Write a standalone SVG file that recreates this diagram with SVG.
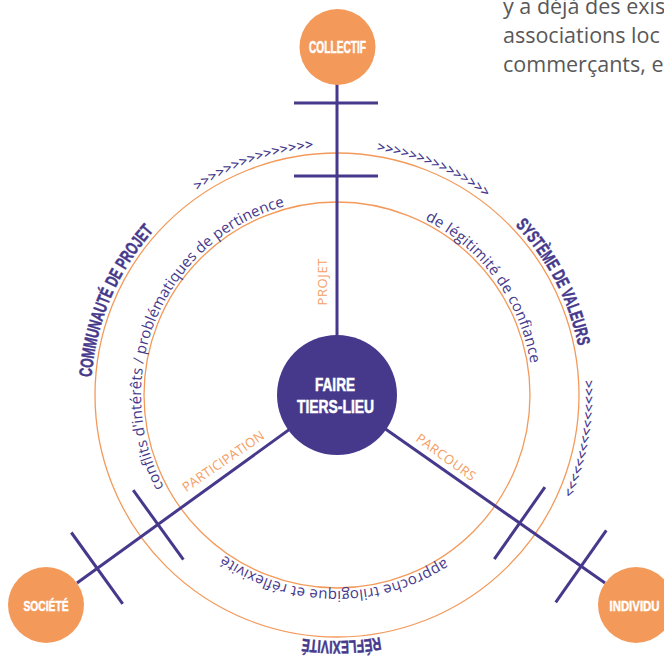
<svg xmlns="http://www.w3.org/2000/svg" width="664" height="657" viewBox="0 0 664 657">
<style>
.ring{fill:none;stroke:#f39a5b;stroke-width:1.3}
.spoke{stroke:#46398c;stroke-width:3;fill:none}
.tick{stroke:#46398c;stroke-width:3}
.onode{fill:#f39a5b}
.cnode{fill:#46398c}
.nlabel{font-family:"Liberation Sans",Arial,sans-serif;font-weight:bold;fill:#fff;stroke:#fff;stroke-width:0.5;text-anchor:middle}
.band{font-family:"Liberation Sans",Arial,sans-serif;font-weight:bold;font-size:18px;fill:#46398c;stroke:#46398c;stroke-width:0.5}
.chev{font-family:"Open Sans",sans-serif;font-size:14px;font-weight:600;fill:#46398c}
.arcl{font-family:"Open Sans",sans-serif;font-size:15px;fill:#46398c}
.spl{font-family:"Open Sans",sans-serif;font-size:13px;fill:#f4a064;text-anchor:middle}
.body{font-family:"Open Sans",sans-serif;font-size:21.5px;fill:#585858}
</style>
<defs>
<path id="pChevTL" d="M98.3,458.5 A247,247 0 0 1 561.03,291.01"/>
<path id="pChevTR" d="M119.22,278.49 A247,247 0 0 1 571.7,471.94"/>
<path id="pChevR" d="M401.76,156.64 A247,247 0 0 1 314.62,640.99"/>
<path id="pComm" d="M221.5,612.19 A246,246 0 0 1 413.01,161.03"/>
<path id="pSyst" d="M242.66,167.79 A246,246 0 0 1 469.37,602.35"/>
<path id="pRefl" d="M582.41,412.16 A246,246 0 0 1 92.35,420.71"/>
<path id="pConf" d="M244.23,567.66 A196,196 0 0 1 398.39,208.86"/>
<path id="pLegi" d="M235.18,227.52 A196,196 0 0 1 466.36,542.25"/>
<path id="pAppr" d="M531.96,415.15 A196,196 0 0 1 141.51,409.01"/>
</defs>

<g id="body-text">
<text class="body" x="503" y="14">y a déjà des exis</text>
<text class="body" x="503" y="43">associations loc</text>
<text class="body" x="503" y="72">commerçants, e</text>
</g>

<g id="rings">
<circle class="ring" cx="337" cy="395" r="242"/>
<circle class="ring" cx="337" cy="395" r="193"/>
</g>

<g id="flow-chevrons">
<text class="chev"><textPath href="#pChevTL" startOffset="50%" text-anchor="middle" textLength="125">&gt;&gt;&gt;&gt;&gt;&gt;&gt;&gt;&gt;&gt;&gt;&gt;&gt;&gt;&gt;</textPath></text>
<text class="chev"><textPath href="#pChevTR" startOffset="50%" text-anchor="middle" textLength="120">&gt;&gt;&gt;&gt;&gt;&gt;&gt;&gt;&gt;&gt;&gt;&gt;&gt;&gt;&gt;</textPath></text>
<text class="chev"><textPath href="#pChevR" startOffset="50%" text-anchor="middle" textLength="117">&gt;&gt;&gt;&gt;&gt;&gt;&gt;&gt;&gt;&gt;&gt;&gt;&gt;&gt;&gt;</textPath></text>
</g>

<g id="ring-labels">
<text class="band"><textPath href="#pComm" startOffset="50%" text-anchor="middle" textLength="162" lengthAdjust="spacingAndGlyphs">COMMUNAUTÉ DE PROJET</textPath></text>
<text class="band"><textPath href="#pSyst" startOffset="50%" text-anchor="middle" textLength="138" lengthAdjust="spacingAndGlyphs">SYSTÈME DE VALEURS</textPath></text>
<text class="band"><textPath href="#pRefl" startOffset="50%" text-anchor="middle" textLength="78" lengthAdjust="spacingAndGlyphs">RÉFLEXIVITÉ</textPath></text>
<text class="arcl"><textPath href="#pConf" startOffset="50%" text-anchor="middle" textLength="351">conflits d'intérêts / problématiques de pertinence</textPath></text>
<text class="arcl"><textPath href="#pLegi" startOffset="50%" text-anchor="middle" textLength="185">de légitimité de confiance</textPath></text>
<text class="arcl"><textPath href="#pAppr" startOffset="50%" text-anchor="middle" textLength="234">approche trilogique et réflexivité</textPath></text>
</g>

<g id="connectors">
<line class="spoke" x1="337" y1="84" x2="337" y2="395"/>
<line class="spoke" x1="77" y1="583" x2="337" y2="395"/>
<line class="spoke" x1="605" y1="583" x2="337" y2="395"/>
<line class="tick" x1="294" y1="103" x2="378" y2="103"/>
<line class="tick" x1="294" y1="176" x2="378" y2="176"/>
<line class="tick" x1="133.2" y1="490.2" x2="183.4" y2="559.7"/>
<line class="tick" x1="71.3" y1="532.5" x2="122.7" y2="603.9"/>
<line class="tick" x1="544.9" y1="487.2" x2="494.3" y2="559.2"/>
<line class="tick" x1="606.3" y1="530.4" x2="555.7" y2="602.4"/>
<text class="spl" transform="translate(326.5,282) rotate(-90)" textLength="47">PROJET</text>
<text class="spl" transform="translate(225.8,465) rotate(-34.5)" textLength="96">PARTICIPATION</text>
<text class="spl" transform="translate(443.2,460.8) rotate(36)" textLength="70">PARCOURS</text>
</g>

<g id="node-collectif">
<circle class="onode" cx="337.5" cy="47" r="38"/>
<text class="nlabel" x="337.5" y="53" font-size="16" textLength="57" lengthAdjust="spacingAndGlyphs">COLLECTIF</text>
</g>
<g id="node-societe">
<circle class="onode" cx="46" cy="605" r="38"/>
<text class="nlabel" x="46" y="610.5" font-size="15" textLength="45" lengthAdjust="spacingAndGlyphs">SOCIÉTÉ</text>
</g>
<g id="node-individu">
<circle class="onode" cx="636" cy="605" r="38"/>
<text class="nlabel" x="634.5" y="610.5" font-size="15" textLength="50" lengthAdjust="spacingAndGlyphs">INDIVIDU</text>
</g>
<g id="node-faire-tiers-lieu">
<circle class="cnode" cx="337" cy="395" r="60"/>
<text class="nlabel" x="335" y="391" font-size="18" textLength="40" lengthAdjust="spacingAndGlyphs">FAIRE</text>
<text class="nlabel" x="335.5" y="413" font-size="18" textLength="77" lengthAdjust="spacingAndGlyphs">TIERS-LIEU</text>
</g>
</svg>
